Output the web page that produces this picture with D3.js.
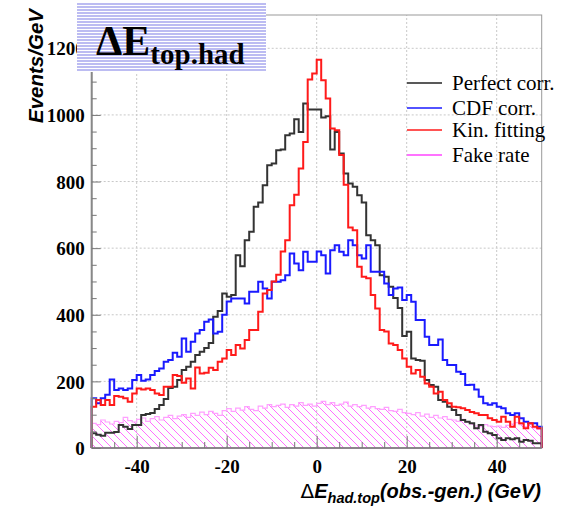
<!DOCTYPE html>
<html><head><meta charset="utf-8">
<script src="https://cdn.jsdelivr.net/npm/d3@7"></script>
<style>body{margin:0;background:#fff}svg{display:block}</style>
</head><body>
<script>
// ---- data (1 GeV bins from -50 to 50) ----
const binLow = -50, binWidth = 1;
const perfectCorr = [44,40,37,46,46,48,69,64,57,69, 69,99,102,105,117,129,147,180,184,204, 234,244,259,279,289,300,315,394,411,464, 454,459,579,546,624,649,724,737,789,849, 854,894,896,939,944,987,949,1034,1016,1016, 1016,992,996,896,949,884,824,794,784,759, 737,639,624,609,519,514,484,450,420,336, 349,269,264,262,204,189,184,144,139,124, 114,99,84,79,74,59,69,49,44,39, 29,24,29,26,29,19,24,22,14,14];
const cdfCorr = [149,134,149,160,206,174,179,174,179,204, 219,202,206,219,231,239,259,264,286,274, 329,289,319,344,354,379,386,344,349,400, 440,449,449,449,434,469,469,499,479,449, 499,499,504,519,584,554,534,589,559,559, 590,579,524,594,609,589,579,624,609,579, 569,609,529,529,529,494,459,479,482,444, 459,439,384,384,334,309,309,326,264,249, 249,229,222,189,190,176,154,134,130,134, 124,119,104,99,104,89,79,74,74,64];
const kinFitting = [124,144,129,144,129,156,154,149,139,164, 179,176,179,174,164,159,184,184,219,216, 196,209,179,242,224,226,241,234,259,269, 294,279,309,299,324,354,354,409,464,474, 500,520,590,624,729,760,839,919,1106,1124, 1166,1104,1049,959,954,880,790,662,654,544, 514,510,459,419,354,350,314,309,294,269, 244,224,234,214,194,184,164,169,144,134, 124,122,119,114,108,104,99,99,89,84, 79,94,79,64,94,74,59,74,64,59];
const fakeRate = [74,70,84,78,72,80,76,92,82,78, 86,90,80,88,94,84,92,98,88,96, 100,92,104,98,108,100,110,104,98,112, 118,110,120,114,124,116,112,126,120,130, 124,128,132,122,130,126,136,128,132,126, 134,140,130,136,128,132,138,126,130,124, 128,120,124,118,116,122,112,110,116,106, 104,100,106,96,102,92,98,90,94,86, 84,80,86,78,72,66,64,70,66,64, 66,62,68,72,76,70,64,72,60,56];
const seriesNames = ["Perfect corr.","CDF corr.","Kin. fitting","Fake rate"];
const xTicks = [-40,-20,0,20,40];
const yTicks = [0,200,400,600,800,1000,1200];

// ---- layout ----
const W = 574, H = 512;
const x = d3.scaleLinear().domain([-50,50]).range([91.7,541.7]);
const y = d3.scaleLinear().domain([0,1300]).range([448,15]);

const svg = d3.select("body").append("svg").attr("width",W).attr("height",H);
const defs = svg.append("defs");
const hp = defs.append("pattern").attr("id","hatch").attr("patternUnits","userSpaceOnUse")
  .attr("width",8).attr("height",8);
hp.append("path").attr("d","M-1,7 L1,9 M0,0 L8,8 M7,-1 L9,1")
  .attr("stroke","#ff70ff").attr("stroke-width",1).attr("fill","none");
const tp = defs.append("pattern").attr("id","stripes").attr("patternUnits","userSpaceOnUse")
  .attr("width",6).attr("height",3);
tp.append("rect").attr("width",6).attr("height",3).attr("fill","#ffffff");
tp.append("rect").attr("width",6).attr("height",2).attr("fill","#bcbcf2");

// grid
const g = svg.append("g");
g.selectAll(".gx").data(xTicks).join("line")
  .attr("x1",d=>x(d)).attr("x2",d=>x(d)).attr("y1",y(0)).attr("y2",y(1300))
  .attr("stroke","#c8c8c8").attr("stroke-dasharray","2,2");
g.selectAll(".gy").data(yTicks.filter(d=>d>0)).join("line")
  .attr("x1",x(-50)).attr("x2",x(50)).attr("y1",d=>y(d)).attr("y2",d=>y(d))
  .attr("stroke","#c8c8c8").attr("stroke-dasharray","2,2");

function stepPts(vals){
  const pts = [[binLow,0]];
  vals.forEach((v,i)=>{ pts.push([binLow+i*binWidth,v]); pts.push([binLow+(i+1)*binWidth,v]); });
  pts.push([binLow+vals.length*binWidth,0]);
  return pts;
}
const line = d3.line().x(d=>x(d[0])).y(d=>y(d[1]));

// fake rate (hatched)
svg.append("path").attr("d",line(stepPts(fakeRate))+"Z").attr("fill","url(#hatch)")
  .attr("stroke","#ffa0ff").attr("stroke-width",1.2);
svg.append("path").attr("d",line(stepPts(perfectCorr))).attr("fill","none")
  .attr("stroke","#333").attr("stroke-width",2);
svg.append("path").attr("d",line(stepPts(cdfCorr))).attr("fill","none")
  .attr("stroke","#1a1aff").attr("stroke-width",2);
svg.append("path").attr("d",line(stepPts(kinFitting))).attr("fill","none")
  .attr("stroke","#ff1a1a").attr("stroke-width",2);

// frame
svg.append("rect").attr("x",x(-50)).attr("y",y(1300)).attr("width",x(50)-x(-50)).attr("height",y(0)-y(1300))
  .attr("fill","none").attr("stroke","#999").attr("stroke-width",1);
svg.append("line").attr("x1",x(-50)).attr("x2",x(-50)).attr("y1",y(0)).attr("y2",y(1300)).attr("stroke","#888").attr("stroke-width",2);
svg.append("line").attr("x1",x(-50)).attr("x2",x(50)).attr("y1",y(0)).attr("y2",y(0)).attr("stroke","#777").attr("stroke-width",1.5);

// axes via d3
const fmt = d => String(d);
const xAxis = d3.axisBottom(x).tickValues(xTicks).tickSize(-12).tickPadding(8).tickFormat(fmt);
const xa = svg.append("g").attr("transform",`translate(0,${y(0)})`).call(xAxis);
const xMinor = d3.axisBottom(x).tickValues(d3.range(-45,50,5).filter(d=>d%20!==0)).tickSize(-6).tickFormat("");
svg.append("g").attr("transform",`translate(0,${y(0)})`).call(xMinor);
const yAxis = d3.axisLeft(y).tickValues(yTicks).tickSize(-9).tickPadding(7).tickFormat(fmt);
const ya = svg.append("g").attr("transform",`translate(${x(-50)},0)`).call(yAxis);
const yMinor = d3.axisLeft(y).tickValues(d3.range(50,1300,50).filter(d=>d%200!==0)).tickSize(-5).tickFormat("");
svg.append("g").attr("transform",`translate(${x(-50)},0)`).call(yMinor);
svg.selectAll(".domain").remove();
svg.selectAll(".tick line").attr("stroke","#777");
svg.selectAll(".tick text").attr("font-family","Liberation Serif").attr("font-weight","bold")
  .attr("font-size",19).attr("fill","#000");
xa.selectAll(".tick text").attr("dy","0.9em");
ya.selectAll(".tick text").attr("dy","0.35em");

// axis titles
svg.append("text").attr("transform","translate(43,9) rotate(-90)").attr("text-anchor","end")
  .attr("font-family","Liberation Sans").attr("font-weight","bold").attr("font-style","italic")
  .attr("font-size",20.5).text("Events/GeV");
const xt = svg.append("text").attr("x",541).attr("y",498).attr("text-anchor","end")
  .attr("font-family","Liberation Sans").attr("font-weight","bold").attr("font-style","italic").attr("font-size",20);
xt.append("tspan").attr("font-family","DejaVu Sans").attr("font-weight","normal").attr("font-style","normal").text("Δ");
xt.append("tspan").text("E");
xt.append("tspan").attr("font-size",14.5).attr("dy",5).text("had.top");
xt.append("tspan").attr("dy",-5).text("(obs.-gen.) (GeV)");

// legend
const legColors = ["#222","#1a1aff","#ff1a1a","#ff44ff"];
const legY = [83,108,130,155];
seriesNames.forEach((n,i)=>{
  svg.append("line").attr("x1",407).attr("x2",442).attr("y1",legY[i]).attr("y2",legY[i])
    .attr("stroke",legColors[i]).attr("stroke-width",1.5);
  svg.append("text").attr("x",452).attr("y",legY[i]+7).attr("font-family","Liberation Serif")
    .attr("font-size",21).text(n);
});

// title box
svg.append("rect").attr("x",77).attr("y",3).attr("width",189).attr("height",69).attr("fill","url(#stripes)");
const tt = svg.append("text").attr("x",96).attr("y",55).attr("font-family","Liberation Serif").attr("font-weight","bold");
tt.append("tspan").attr("font-size",42).text("ΔE");
tt.append("tspan").attr("font-size",29).attr("dy",9).text("top.had");
</script>
</body></html>
